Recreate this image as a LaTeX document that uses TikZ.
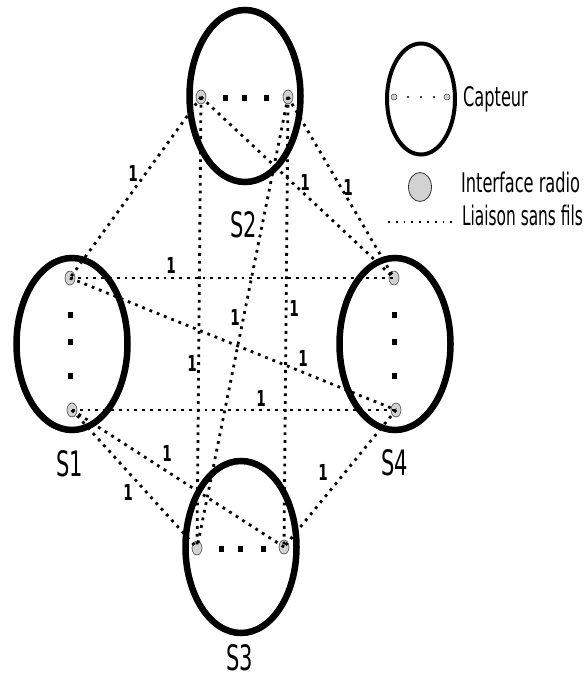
\documentclass[tikz,border=0pt]{standalone}
\usetikzlibrary{shapes.geometric}
\usepackage{fontspec}
\setmainfont{DejaVu Sans}
\begin{document}
\begin{tikzpicture}[x=1pt,y=-1pt,
  sensor/.style={ellipse, draw, line width=6.5pt, minimum width=111pt, minimum height=172pt, inner sep=0pt},
  radio/.style={ellipse, draw=black!75, fill=gray!35, line width=0.6pt, minimum width=10pt, minimum height=14pt, inner sep=0pt},
  link/.style={line width=2.8pt, dash pattern=on 2.8pt off 5pt},
  sq/.style={rectangle, fill=black, minimum width=5pt, minimum height=6pt, inner sep=0pt},
  lbl/.style={font=\bfseries\fontsize{22}{22}\selectfont, xscale=0.62, inner sep=0pt},
  sname/.style={font=\fontsize{35}{35}\selectfont, xscale=0.6, inner sep=0pt, anchor=base},
  legtext/.style={font=\fontsize{27}{27}\selectfont, xscale=0.6, inner sep=0pt, anchor=base west}]
\useasboundingbox (0,0) rectangle (587,679);

% sensors
\node[sensor] (S2) at (245,96) {};
\node[sensor] (S1) at (72,344) {};
\node[sensor] (S4) at (395,344) {};
\node[sensor] (S3) at (241,547) {};

% radio interfaces
\node[radio] (A) at (201,97) {};
\node[radio] (B) at (288,97) {};
\node[radio] (C) at (70,278) {};
\node[radio] (D) at (72,410) {};
\node[radio] (E) at (394,278) {};
\node[radio] (F) at (396,410) {};
\node[radio] (G) at (197,548) {};
\node[radio] (H) at (284,547) {};

% dots inside sensors
\foreach \x [count=\i] in {225,244,266} \node[sq] (s2d\i) at (\x,98) {};
\foreach \x [count=\i] in {221,240,263} \node[sq] (s3d\i) at (\x,549) {};
\foreach \y [count=\i] in {315,342,376} \node[sq] (s1d\i) at (70,\y) {};
\foreach \y [count=\i] in {315,342,376} \node[sq] (s4d\i) at (394,\y) {};

% links
\draw[link] (A.center) -- (C.center);
\draw[link] (A.center) -- (E.center);
\draw[link] (B.center) -- (E.center);
\draw[link] (A.center) -- (G.center);
\draw[link] (B.center) -- (H.center);
\draw[link] (B.center) -- (G.center);
\draw[link] (C.center) -- (E.center);
\draw[link] (C.center) -- (F.center);
\draw[link] (D.center) -- (F.center);
\draw[link] (D.center) -- (H.center);
\draw[link] (D.center) -- (G.center);
\draw[link] (F.center) -- (H.center);

% weights
\node[lbl] (w1) at (133,173) {1};
\node[lbl] (w2) at (305,182) {1};
\node[lbl] (w3) at (348,187) {1};
\node[lbl] (w4) at (171,265) {1};
\node[lbl] (w5) at (235,317) {1};
\node[lbl] (w6) at (294,308) {1};
\node[lbl] (w7) at (192,363) {1};
\node[lbl] (w8) at (303,358) {1};
\node[lbl] (w9) at (261,398) {1};
\node[lbl] (w10) at (167,453) {1};
\node[lbl] (w11) at (128,492) {1};
\node[lbl] (w12) at (323,472) {1};

% sensor names
\node[sname] (n2) at (244,237) {S2};
\node[sname] (n1) at (70,476) {S1};
\node[sname] (n4) at (395,475) {S4};
\node[sname] (n3) at (240,670) {S3};

% legend
\node[ellipse, draw, line width=4pt, minimum width=68pt, minimum height=111pt, inner sep=0pt] (L) at (421,99) {};
\node[circle, draw=black!75, fill=gray!35, line width=0.5pt, minimum size=6pt, inner sep=0pt] (La) at (394,97) {};
\node[circle, draw=black!75, fill=gray!35, line width=0.5pt, minimum size=6pt, inner sep=0pt] (Lb) at (447,97) {};
\foreach \x [count=\i] in {408,421,434} \node[circle, fill=black, minimum size=2.4pt, inner sep=0pt] (ld\i) at (\x,97) {};
\node[legtext] (cap) at (463,107) {Capteur};
\node[ellipse, draw=black!80, fill=gray!35, line width=0.8pt, minimum width=23pt, minimum height=29pt, inner sep=0pt] (Lr) at (420,187) {};
\node[legtext] (ir) at (461,192) {Interface radio};
\coordinate (l1) at (388,222);
\coordinate (l2) at (456,222);
\draw[line width=1.8pt, dash pattern=on 1.8pt off 6pt] (l1) -- (l2);
\node[legtext, xscale=0.95] (ls) at (462,225) {Liaison sans fils};
\end{tikzpicture}
\end{document}
